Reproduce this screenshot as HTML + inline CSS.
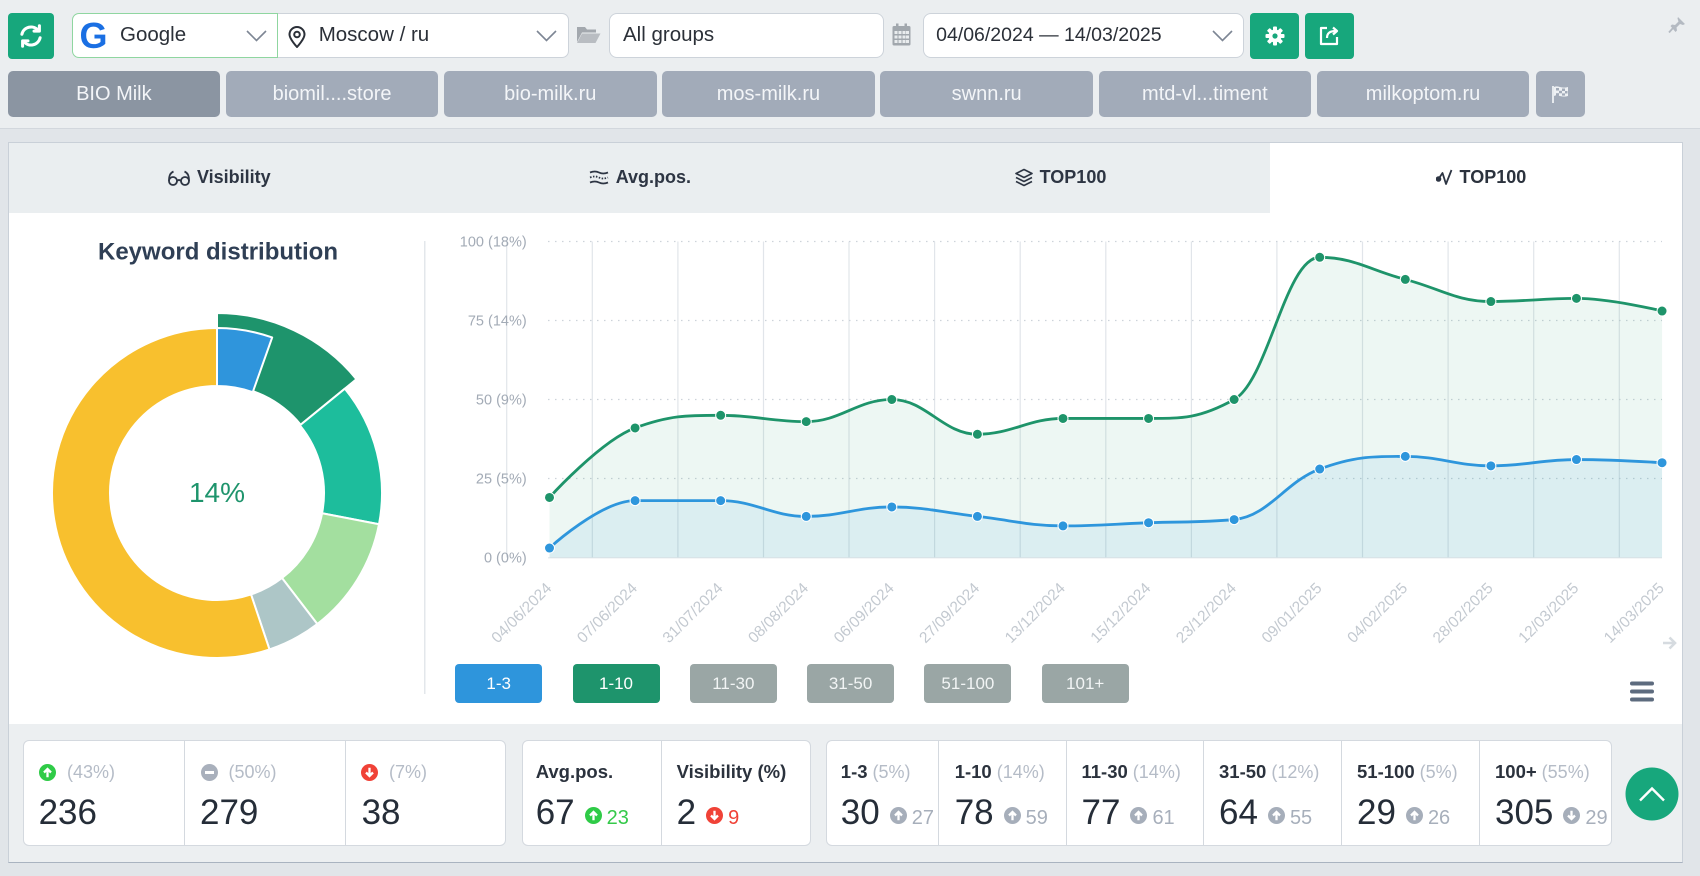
<!DOCTYPE html>
<html><head><meta charset="utf-8"><title>Keyword distribution</title>
<style>
*{box-sizing:border-box;margin:0;padding:0}
html,body{width:1700px;height:876px;overflow:hidden}
body{background:#ebeef0;font-family:"Liberation Sans",sans-serif;position:relative;color:#2b3038}
.a{position:absolute}
.box{position:absolute;top:12.5px;height:45.5px;background:#fff;border:1px solid #cdd3da;display:flex;align-items:center;font-size:20.5px;color:#2b3038;white-space:nowrap}
.gb{position:absolute;top:12.5px;height:46px;background:#17a77c;border-radius:4px;display:flex;align-items:center;justify-content:center}
.tb{position:absolute;top:70.7px;height:46px;width:212.5px;background:#a2abb9;border-radius:5px;color:#f3f5f8;font-size:20px;line-height:46px;text-align:center;white-space:nowrap}
.tab{position:absolute;top:142.5px;height:70px;background:#eaeef0;display:flex;align-items:center;justify-content:center;font-size:18px;font-weight:bold;color:#2d3543;white-space:nowrap}
.tab svg{margin-right:6px}
.lg{position:absolute;top:664.3px;height:39px;width:87px;border-radius:4px;color:#f2f5f5;font-size:17px;line-height:39px;text-align:center;background:#9aa6a5}
.sb{position:absolute;top:740px;height:106px;background:#fff;border:1px solid #d4d9df;border-radius:6px}
.dv{position:absolute;top:741px;height:104px;width:1px;background:#d4d9df}
.lb{position:absolute;top:761px;height:22px;line-height:22px;font-size:18px;white-space:nowrap;color:#b5bcc7;display:flex;align-items:center}
.lb b{color:#2b323d;font-size:18.5px;margin-right:5px}
.lb svg{margin-right:11px}
.nm{position:absolute;top:793px;height:40px;line-height:40px;font-size:35px;white-space:nowrap;color:#252d38}
.nm svg{vertical-align:0;margin-left:10px;margin-right:5px}
.sm{font-size:20px;color:#a7afbb}
</style></head>
<body>

<!-- top bar -->
<div class="gb" style="left:7.5px;width:46.5px;">
<svg width="28" height="28" viewBox="0 0 24 24" fill="none" stroke="#fff" stroke-width="2.6" stroke-linecap="round"><path d="M4.2 10.5A8 8 0 0 1 18.2 7.2"/><path d="M19.8 13.5A8 8 0 0 1 5.8 16.8"/><path d="M19.2 3.2v4.6h-4.6" stroke-linejoin="round"/><path d="M4.8 20.8v-4.6h4.6" stroke-linejoin="round"/></svg>
</div>
<div class="box" style="left:71.5px;width:206.5px;border-color:#8fd6a0;border-radius:7px 0 0 7px;">
<span style="position:absolute;left:7px;top:2px;font-size:36px;font-weight:bold;color:#1a6fe3;line-height:40px">G</span>
<span style="position:absolute;left:47.5px;">Google</span>
<svg class="a" style="left:173px;top:16px" width="21" height="12" viewBox="0 0 21 12"><path d="M1 1l9.5 9.5L20 1" fill="none" stroke="#7d8694" stroke-width="1.6"/></svg>
</div>
<div class="box" style="left:277.7px;width:291.5px;border-left:none;border-radius:0 7px 7px 0;">
<svg class="a" style="left:9px;top:12px" width="20" height="22" viewBox="0 0 20 22"><path d="M10 21s-7.5-8-7.5-12.5a7.5 7.5 0 0 1 15 0C17.5 13 10 21 10 21z" fill="none" stroke="#2b3038" stroke-width="2"/><circle cx="10" cy="8.5" r="2.8" fill="none" stroke="#2b3038" stroke-width="2"/></svg>
<span style="position:absolute;left:41px;">Moscow / ru</span>
<svg class="a" style="left:258px;top:16px" width="21" height="12" viewBox="0 0 21 12"><path d="M1 1l9.5 9.5L20 1" fill="none" stroke="#7d8694" stroke-width="1.6"/></svg>
</div>
<svg class="a" style="left:576px;top:25px" width="25" height="19" viewBox="0 0 25 19"><path d="M1 2h8l2 2.5h9v3H6L1 17z" fill="#a3a8ae"/><path d="M6 8.5h18.5L19.5 18H1z" fill="#b9bdc2"/></svg>
<div class="box" style="left:609px;width:275px;border-radius:8px;">
<span style="position:absolute;left:13px;">All groups</span>
</div>
<svg class="a" style="left:892px;top:23px" width="19" height="23" viewBox="0 0 19 23"><rect x="0.5" y="3" width="18" height="19.5" rx="1.5" fill="#a1a7ad"/><rect x="4" y="0.5" width="2.5" height="5" fill="#a1a7ad"/><rect x="12.5" y="0.5" width="2.5" height="5" fill="#a1a7ad"/><g fill="#e9ecee"><rect x="2.5" y="8" width="3" height="3"/><rect x="6.5" y="8" width="3" height="3"/><rect x="10.5" y="8" width="3" height="3"/><rect x="14" y="8" width="3" height="3"/><rect x="2.5" y="12.5" width="3" height="3"/><rect x="6.5" y="12.5" width="3" height="3"/><rect x="10.5" y="12.5" width="3" height="3"/><rect x="14" y="12.5" width="3" height="3"/><rect x="2.5" y="17" width="3" height="3"/><rect x="6.5" y="17" width="3" height="3"/><rect x="10.5" y="17" width="3" height="3"/><rect x="14" y="17" width="3" height="3"/></g></svg>
<div class="box" style="left:922.6px;width:321px;border-radius:8px;font-size:19.5px;">
<span style="position:absolute;left:12.5px;">04/06/2024 — 14/03/2025</span>
<svg class="a" style="left:288px;top:16px" width="21" height="12" viewBox="0 0 21 12"><path d="M1 1l9.5 9.5L20 1" fill="none" stroke="#7d8694" stroke-width="1.6"/></svg>
</div>
<div class="gb" style="left:1250px;width:49px;">
<svg width="20" height="20" viewBox="0 0 20 20"><g fill="#fff"><circle cx="10" cy="10" r="6.5"/><rect x="8" y="0.5" width="4" height="5" rx="1"/><rect x="8" y="14.5" width="4" height="5" rx="1"/><rect x="0.5" y="8" width="5" height="4" rx="1"/><rect x="14.5" y="8" width="5" height="4" rx="1"/><rect x="8" y="0.5" width="4" height="5" rx="1" transform="rotate(45 10 10)"/><rect x="8" y="14.5" width="4" height="5" rx="1" transform="rotate(45 10 10)"/><rect x="0.5" y="8" width="5" height="4" rx="1" transform="rotate(45 10 10)"/><rect x="14.5" y="8" width="5" height="4" rx="1" transform="rotate(45 10 10)"/></g><circle cx="10" cy="10" r="2.6" fill="#17a77c"/></svg>
</div>
<div class="gb" style="left:1304.7px;width:49px;">
<svg width="22" height="22" viewBox="0 0 22 22" fill="none" stroke="#fff" stroke-width="2.2" stroke-linejoin="round"><path d="M9 3H3v16h16v-7"/><path d="M9 13c0-5 3-7 9-7"/><path d="M15 2.5l4 3.5-4 3.5"/></svg>
</div>
<svg class="a" style="left:1668px;top:16px" width="18" height="17" viewBox="0 0 18 17"><path d="M10 1l7 7-2 1-3-1-3.5 3.5.5 3-1.5 1.5L2.5 10 4 8.5l3 .5L10.5 5.5 9.5 2.5z" fill="#b4bac2"/><path d="M5 12l-4 4.5" stroke="#b4bac2" stroke-width="1.8"/></svg>

<!-- second row tabs -->
<div class="tb" style="left:7.6px;background:#8b95a2;">BIO Milk</div>
<div class="tb" style="left:225.8px;">biomil....store</div>
<div class="tb" style="left:444px;">bio-milk.ru</div>
<div class="tb" style="left:662.2px;">mos-milk.ru</div>
<div class="tb" style="left:880.4px;">swnn.ru</div>
<div class="tb" style="left:1098.6px;">mtd-vl...timent</div>
<div class="tb" style="left:1316.8px;">milkoptom.ru</div>
<div class="tb" style="left:1535.5px;width:49px;">
<svg class="a" style="left:15px;top:14px" width="19" height="18" viewBox="0 0 19 18"><path d="M2 1v17" stroke="#eef1f4" stroke-width="1.8"/><path d="M3 2c4-2 7 2 14 0v9c-7 2-10-2-14 0z" fill="#eef1f4"/><g fill="#a2abb9"><rect x="5" y="3" width="3" height="2.5"/><rect x="11" y="3.5" width="3" height="2.5"/><rect x="8" y="5.8" width="3" height="2.5"/><rect x="14" y="6" width="2.5" height="2.5"/><rect x="5" y="8.2" width="3" height="2.5"/><rect x="11" y="8.4" width="3" height="2.2"/></g></svg>
</div>

<!-- container -->
<div class="a" style="left:0;top:128px;width:1700px;height:748px;background:#e1e5e9;border-top:1px solid #d2d7dd"></div>
<div class="a" style="left:7.5px;top:141.5px;width:1675px;height:721px;background:#fff;border:1px solid #c9d0d8;border-bottom-color:#a9b3c0"></div>

<!-- panel tabs -->
<div class="tab" style="left:8.5px;width:420.6px;">
<svg width="24" height="17" viewBox="0 0 24 17" fill="none" stroke="#2d3543" stroke-width="1.8"><circle cx="6" cy="12" r="4"/><circle cx="18" cy="12" r="4"/><path d="M10 12q2-2 4 0M2 12C2 7 3 4 6.5 2.5M22 12c0-5-1-8-4.5-9.5"/></svg>Visibility</div>
<div class="tab" style="left:429.1px;width:420.6px;">
<svg width="22" height="17" viewBox="0 0 22 17" fill="none" stroke="#2d3543" stroke-width="1.8"><path d="M2 3.5q5-2 9 0t9 0"/><path d="M2 8.5q5-2 9 0t9 0" stroke-dasharray="1.5 1.5"/><path d="M2 13.5q5-2 9 0t9 0"/></svg>Avg.pos.</div>
<div class="tab" style="left:849.7px;width:420.6px;">
<svg width="20" height="19" viewBox="0 0 20 19" fill="none" stroke="#2d3543" stroke-width="1.6" stroke-linejoin="round"><path d="M10 1.5L18 5.5 10 9.5 2 5.5z"/><path d="M2 9.5l8 4 8-4"/><path d="M2 13.5l8 4 8-4"/></svg>TOP100</div>
<div class="tab" style="left:1270.3px;width:411.2px;background:#fff;padding-left:10px;color:#2b323d">
<svg width="18" height="19" viewBox="0 0 18 19" fill="none" stroke="#2d3543" stroke-width="1.8" stroke-linejoin="round"><path d="M2.5 11l4-6 3.5 11 5.5-14"/><circle cx="2.5" cy="11" r="1.9" fill="#2d3543"/></svg>TOP100</div>

<!-- stats area bg -->
<div class="a" style="left:8.5px;top:724px;width:1673px;height:137.5px;background:#eceff1"></div>

<!-- charts svg -->
<svg class="a" style="left:0;top:0" width="1700" height="876" viewBox="0 0 1700 876" id="ch">
<rect x="424" y="241" width="1.5" height="453" fill="#e3e7eb"/>
<text x="218" y="259.5" text-anchor="middle" font-family="Liberation Sans, sans-serif" font-size="24" font-weight="bold" fill="#2f3f55">Keyword distribution</text>
<g id="donut" stroke="#fff" stroke-width="2" stroke-linejoin="round"></g>
<text x="217" y="502" text-anchor="middle" font-family="Liberation Sans, sans-serif" font-size="28" fill="#1e946c">14%</text>

<g stroke="#e1e5ea" stroke-width="1.2">
<line x1="506.7" y1="241.5" x2="506.7" y2="557.5"/><line x1="592.3" y1="241.5" x2="592.3" y2="557.5"/><line x1="677.9" y1="241.5" x2="677.9" y2="557.5"/><line x1="763.5" y1="241.5" x2="763.5" y2="557.5"/><line x1="849" y1="241.5" x2="849" y2="557.5"/><line x1="934.6" y1="241.5" x2="934.6" y2="557.5"/><line x1="1020.2" y1="241.5" x2="1020.2" y2="557.5"/><line x1="1105.8" y1="241.5" x2="1105.8" y2="557.5"/><line x1="1191.4" y1="241.5" x2="1191.4" y2="557.5"/><line x1="1276.9" y1="241.5" x2="1276.9" y2="557.5"/><line x1="1362.5" y1="241.5" x2="1362.5" y2="557.5"/><line x1="1448.1" y1="241.5" x2="1448.1" y2="557.5"/><line x1="1533.7" y1="241.5" x2="1533.7" y2="557.5"/><line x1="1619.3" y1="241.5" x2="1619.3" y2="557.5"/>
</g>
<g stroke="#cdd3da" stroke-width="1.3" stroke-dasharray="1.5 5.5">
<line x1="548" y1="241.5" x2="1662" y2="241.5"/><line x1="548" y1="320.5" x2="1662" y2="320.5"/><line x1="548" y1="399.5" x2="1662" y2="399.5"/><line x1="548" y1="478.5" x2="1662" y2="478.5"/>
</g>
<line x1="548" y1="557.8" x2="1662" y2="557.8" stroke="#e2e6ea" stroke-width="1.2"/>
<g font-family="Liberation Sans, sans-serif" font-size="14.5" fill="#a3abb6" text-anchor="end">
<text x="526.7" y="246.5">100 (18%)</text><text x="526.7" y="325.5">75 (14%)</text><text x="526.7" y="404.5">50 (9%)</text><text x="526.7" y="483.5">25 (5%)</text><text x="526.7" y="562.5">0 (0%)</text>
</g>
<path id="ga" fill="rgba(30,148,106,0.08)"/>
<path id="ba" fill="rgba(46,150,220,0.09)"/>
<path id="gl" fill="none" stroke="#1e946a" stroke-width="2.8"/>
<path id="bl" fill="none" stroke="#2e96dc" stroke-width="2.8"/>
<g id="mk" stroke="#fff" stroke-width="1"></g>
<g font-family="Liberation Sans, sans-serif" font-size="15.5" fill="#c3c9d0" text-anchor="end">
<text x="552.5" y="589" transform="rotate(-45 552.5 589)">04/06/2024</text>
<text x="638.1" y="589" transform="rotate(-45 638.1 589)">07/06/2024</text>
<text x="723.7" y="589" transform="rotate(-45 723.7 589)">31/07/2024</text>
<text x="809.2" y="589" transform="rotate(-45 809.2 589)">08/08/2024</text>
<text x="894.8" y="589" transform="rotate(-45 894.8 589)">06/09/2024</text>
<text x="980.4" y="589" transform="rotate(-45 980.4 589)">27/09/2024</text>
<text x="1066" y="589" transform="rotate(-45 1066 589)">13/12/2024</text>
<text x="1151.6" y="589" transform="rotate(-45 1151.6 589)">15/12/2024</text>
<text x="1237.1" y="589" transform="rotate(-45 1237.1 589)">23/12/2024</text>
<text x="1322.7" y="589" transform="rotate(-45 1322.7 589)">09/01/2025</text>
<text x="1408.3" y="589" transform="rotate(-45 1408.3 589)">04/02/2025</text>
<text x="1493.9" y="589" transform="rotate(-45 1493.9 589)">28/02/2025</text>
<text x="1579.5" y="589" transform="rotate(-45 1579.5 589)">12/03/2025</text>
<text x="1665" y="589" transform="rotate(-45 1665 589)">14/03/2025</text>
</g>
<path d="M1663 643h11M1669.5 637.5l5.5 5.5-5.5 5.5" fill="none" stroke="#d6dbe0" stroke-width="2.6"/>
<g fill="#5d6b7e"><rect x="1630" y="681.5" width="24" height="4" rx="2"/><rect x="1630" y="689.5" width="24" height="4" rx="2"/><rect x="1630" y="697.5" width="24" height="4" rx="2"/></g>
<circle cx="1652" cy="794" r="26.5" fill="#17a77c"/>
<path d="M1640 800.5l12-12 12 12" fill="none" stroke="#fff" stroke-width="2.4"/>
</svg>

<!-- legend -->
<div class="lg" style="left:455.2px;background:#2e95dc;color:#fff">1-3</div>
<div class="lg" style="left:572.5px;background:#1e946c;color:#fff">1-10</div>
<div class="lg" style="left:689.8px;">11-30</div>
<div class="lg" style="left:807.1px;">31-50</div>
<div class="lg" style="left:924.4px;">51-100</div>
<div class="lg" style="left:1041.7px;">101+</div>

<!-- stats box 1 -->
<div class="sb" style="left:22.8px;width:483.5px;"></div>
<div class="dv" style="left:184px"></div>
<div class="dv" style="left:344.6px"></div>
<div class="lb" style="left:39px"><svg width="17" height="17" viewBox="0 0 17 17"><circle cx="8.5" cy="8.5" r="8.5" fill="#2fcb47"/><path d="M8.5 13.2V5.2M5 8.5l3.5-3.5 3.5 3.5" stroke="#fff" stroke-width="2.3" fill="none"/></svg>(43%)</div>
<div class="lb" style="left:200.5px"><svg width="17" height="17" viewBox="0 0 17 17"><circle cx="8.5" cy="8.5" r="8.5" fill="#a9b0bc"/><rect x="4" y="7" width="9" height="3" fill="#fff"/></svg>(50%)</div>
<div class="lb" style="left:361px"><svg width="17" height="17" viewBox="0 0 17 17"><circle cx="8.5" cy="8.5" r="8.5" fill="#f04237"/><path d="M8.5 3.8V11.8M5 8.5l3.5 3.5 3.5-3.5" stroke="#fff" stroke-width="2.3" fill="none"/></svg>(7%)</div>
<div class="nm" style="left:38.6px">236</div>
<div class="nm" style="left:200px">279</div>
<div class="nm" style="left:361.6px">38</div>

<!-- stats box 2 -->
<div class="sb" style="left:521.5px;width:289px;"></div>
<div class="dv" style="left:661px"></div>
<div class="lb" style="left:535.7px"><b>Avg.pos.</b></div>
<div class="lb" style="left:676.6px"><b>Visibility (%)</b></div>
<div class="nm" style="left:535.7px">67<svg width="17" height="17" viewBox="0 0 17 17"><circle cx="8.5" cy="8.5" r="8.5" fill="#2fcb47"/><path d="M8.5 13.2V5.2M5 8.5l3.5-3.5 3.5 3.5" stroke="#fff" stroke-width="2.3" fill="none"/></svg><span class="sm" style="color:#35c94a">23</span></div>
<div class="nm" style="left:676.6px">2<svg width="17" height="17" viewBox="0 0 17 17"><circle cx="8.5" cy="8.5" r="8.5" fill="#f04237"/><path d="M8.5 3.8V11.8M5 8.5l3.5 3.5 3.5-3.5" stroke="#fff" stroke-width="2.3" fill="none"/></svg><span class="sm" style="color:#f04237">9</span></div>

<!-- stats box 3 -->
<div class="sb" style="left:825.6px;width:786.4px;"></div>
<div class="dv" style="left:938.4px"></div>
<div class="dv" style="left:1065.8px"></div>
<div class="dv" style="left:1203.3px"></div>
<div class="dv" style="left:1341.3px"></div>
<div class="dv" style="left:1479.4px"></div>
<div class="lb" style="left:840.8px"><b>1-3</b>(5%)</div>
<div class="lb" style="left:954.7px"><b>1-10</b>(14%)</div>
<div class="lb" style="left:1081.5px"><b>11-30</b>(14%)</div>
<div class="lb" style="left:1219px"><b>31-50</b>(12%)</div>
<div class="lb" style="left:1357px"><b>51-100</b>(5%)</div>
<div class="lb" style="left:1495px"><b>100+</b>(55%)</div>
<div class="nm" style="left:840.8px">30<svg width="17" height="17" viewBox="0 0 17 17"><circle cx="8.5" cy="8.5" r="8.5" fill="#a6aeba"/><path d="M8.5 13.2V5.2M5 8.5l3.5-3.5 3.5 3.5" stroke="#fff" stroke-width="2.3" fill="none"/></svg><span class="sm">27</span></div>
<div class="nm" style="left:954.7px">78<svg width="17" height="17" viewBox="0 0 17 17"><circle cx="8.5" cy="8.5" r="8.5" fill="#a6aeba"/><path d="M8.5 13.2V5.2M5 8.5l3.5-3.5 3.5 3.5" stroke="#fff" stroke-width="2.3" fill="none"/></svg><span class="sm">59</span></div>
<div class="nm" style="left:1081.5px">77<svg width="17" height="17" viewBox="0 0 17 17"><circle cx="8.5" cy="8.5" r="8.5" fill="#a6aeba"/><path d="M8.5 13.2V5.2M5 8.5l3.5-3.5 3.5 3.5" stroke="#fff" stroke-width="2.3" fill="none"/></svg><span class="sm">61</span></div>
<div class="nm" style="left:1219px">64<svg width="17" height="17" viewBox="0 0 17 17"><circle cx="8.5" cy="8.5" r="8.5" fill="#a6aeba"/><path d="M8.5 13.2V5.2M5 8.5l3.5-3.5 3.5 3.5" stroke="#fff" stroke-width="2.3" fill="none"/></svg><span class="sm">55</span></div>
<div class="nm" style="left:1357px">29<svg width="17" height="17" viewBox="0 0 17 17"><circle cx="8.5" cy="8.5" r="8.5" fill="#a6aeba"/><path d="M8.5 13.2V5.2M5 8.5l3.5-3.5 3.5 3.5" stroke="#fff" stroke-width="2.3" fill="none"/></svg><span class="sm">26</span></div>
<div class="nm" style="left:1495px">305<svg width="17" height="17" viewBox="0 0 17 17"><circle cx="8.5" cy="8.5" r="8.5" fill="#a6aeba"/><path d="M8.5 3.8V11.8M5 8.5l3.5 3.5 3.5-3.5" stroke="#fff" stroke-width="2.3" fill="none"/></svg><span class="sm">29</span></div>

<script>
(function(){
var NS="http://www.w3.org/2000/svg";
function seg(r0,r1,a0,a1){var cx=217,cy=493,t=Math.PI/180;
 function p(r,a){return (cx+r*Math.sin(a*t)).toFixed(2)+" "+(cy-r*Math.cos(a*t)).toFixed(2);}
 var lg=(a1-a0)>180?1:0;
 return "M"+p(r1,a0)+"A"+r1+" "+r1+" 0 "+lg+" 1 "+p(r1,a1)+"L"+p(r0,a1)+"A"+r0+" "+r0+" 0 "+lg+" 0 "+p(r0,a0)+"Z";}
var segs=[[108,180,0,50.78,"#1e946c"],[107,165,50.78,100.91,"#1dbd9c"],[107,165,100.91,142.57,"#a3df9f"],[107,165,142.57,161.45,"#adc6c7"],[107,165,161.45,360,"#f8c02e"],[107,165,0,19.53,"#2f95dc"]];
var dg=document.getElementById("donut");
segs.forEach(function(s){var e=document.createElementNS(NS,"path");e.setAttribute("d",seg(s[0],s[1],s[2],s[3]));e.setAttribute("fill",s[4]);dg.appendChild(e);});
var G=[19,41,45,43,50,39,44,44,50,95,88,81,82,78];
var B=[3,18,18,13,16,13,10,11,12,28,32,29,31,30];
var X0=549.5,DX=85.58,Y0=557.5,K=3.16;
function pts(a){return a.map(function(v,i){return [X0+i*DX,Y0-v*K];});}
function spline(P){var sm=1.5,den=2.5,d="M"+P[0][0]+" "+P[0][1],pr=P[0];
 for(var i=1;i<P.length;i++){var x=P[i][0],y=P[i][1],lc=[x,y],rc=[x,y];
  if(i<P.length-1){var lx=P[i-1][0],ly=P[i-1][1],nx=P[i+1][0],ny=P[i+1][1];
   var lcx=(sm*x+lx)/den,lcy=(sm*y+ly)/den,rcx=(sm*x+nx)/den,rcy=(sm*y+ny)/den;
   if(rcx!==lcx){var c=((rcy-lcy)*(rcx-x))/(rcx-lcx)+y-rcy;lcy+=c;rcy+=c;}
   if(lcy>ly&&lcy>y){lcy=Math.max(ly,y);rcy=2*y-lcy;}else if(lcy<ly&&lcy<y){lcy=Math.min(ly,y);rcy=2*y-lcy;}
   if(rcy>ny&&rcy>y){rcy=Math.max(ny,y);lcy=2*y-rcy;}else if(rcy<ny&&rcy<y){rcy=Math.min(ny,y);lcy=2*y-rcy;}
   lc=[lcx,lcy];rc=[rcx,rcy];}
  d+=" C"+pr[0].toFixed(2)+" "+pr[1].toFixed(2)+" "+lc[0].toFixed(2)+" "+lc[1].toFixed(2)+" "+x.toFixed(2)+" "+y.toFixed(2);
  pr=rc;}
 return d;}
var gp=pts(G),bp=pts(B);
var gs=spline(gp),bs=spline(bp);
var last=X0+13*DX;
document.getElementById("gl").setAttribute("d",gs);
document.getElementById("bl").setAttribute("d",bs);
document.getElementById("ga").setAttribute("d",gs+" L"+last+" "+Y0+" L"+X0+" "+Y0+" Z");
document.getElementById("ba").setAttribute("d",bs+" L"+last+" "+Y0+" L"+X0+" "+Y0+" Z");
var mk=document.getElementById("mk");
function mark(P,col){P.forEach(function(p){var c=document.createElementNS(NS,"circle");c.setAttribute("cx",p[0]);c.setAttribute("cy",p[1]);c.setAttribute("r","5");c.setAttribute("fill",col);mk.appendChild(c);});}
mark(gp,"#1e946a");mark(bp,"#2e96dc");
})();
</script>
</body></html>
